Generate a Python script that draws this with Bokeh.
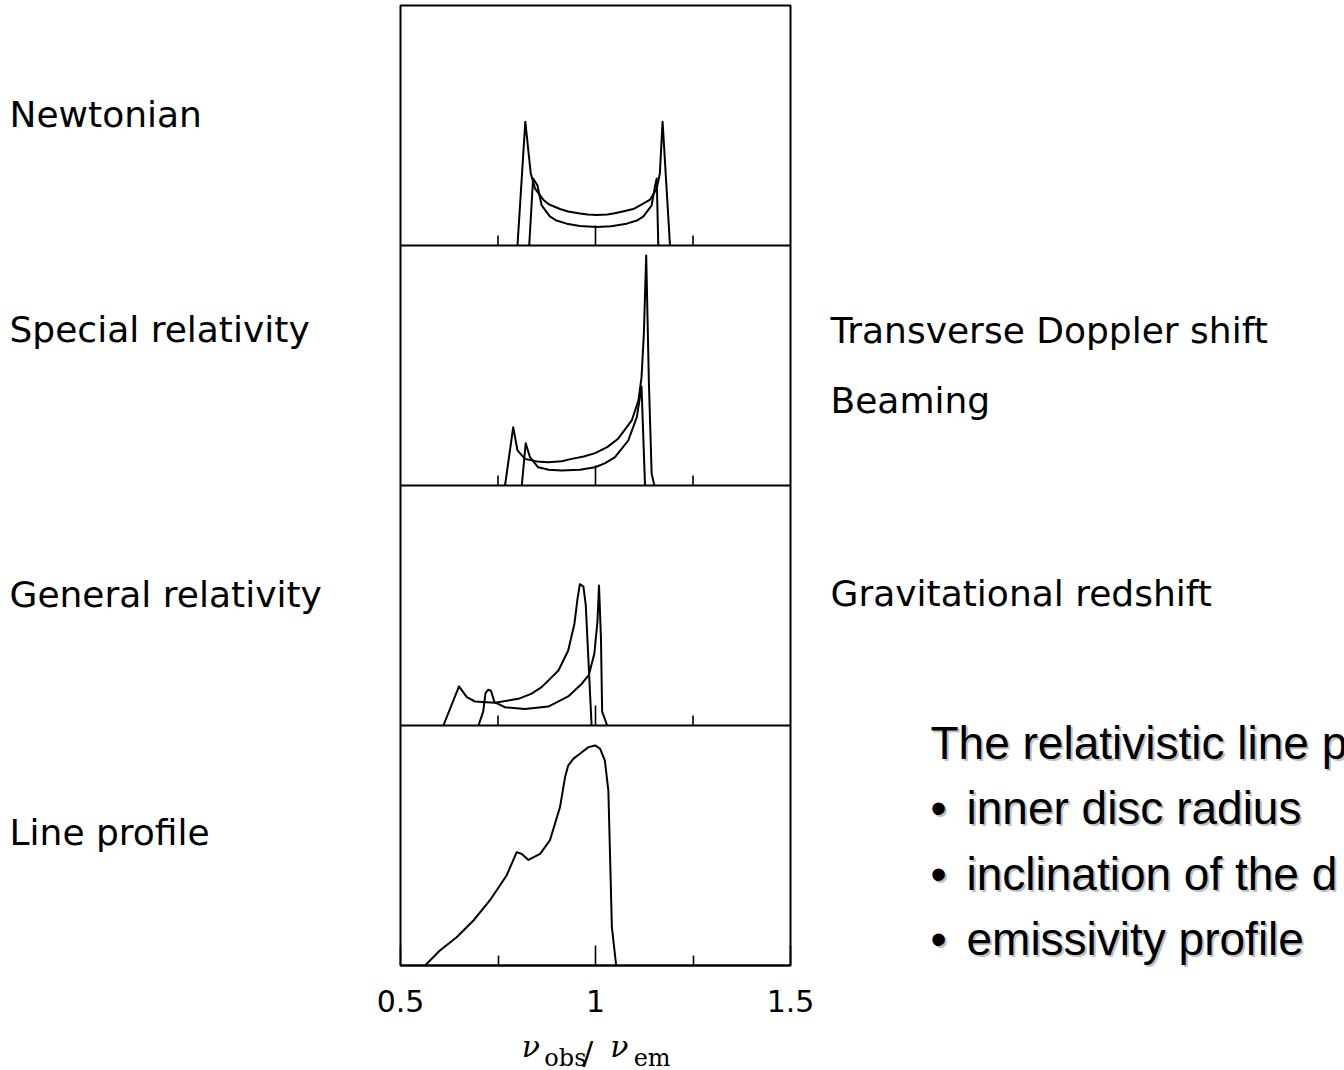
from bokeh.plotting import figure
from bokeh.models import Range1d, FixedTicker, Span, Label
from bokeh.layouts import row, column
from bokeh.embed import file_html
from bokeh.resources import INLINE

# ---------------- data (x = nu_obs/nu_em, y = relative flux within panel) ----------------
newt_a_x = [0.800, 0.820, 0.834, 0.845, 0.866, 0.880, 0.909, 0.930, 0.960, 0.980, 1.003,
            1.030, 1.046, 1.070, 1.097, 1.120, 1.140, 1.157, 1.165, 1.172, 1.191]
newt_a_y = [0.0, 0.516, 0.300, 0.237, 0.191, 0.172, 0.152, 0.142, 0.133, 0.129, 0.127,
            0.129, 0.133, 0.142, 0.152, 0.172, 0.191, 0.237, 0.300, 0.516, 0.0]
newt_b_x = [0.830, 0.840, 0.851, 0.862, 0.883, 0.900, 0.926, 0.960, 1.003, 1.040, 1.080,
            1.106, 1.123, 1.144, 1.153, 1.157, 1.161]
newt_b_y = [0.0, 0.279, 0.251, 0.167, 0.121, 0.104, 0.091, 0.081, 0.077, 0.080, 0.091,
            0.104, 0.121, 0.167, 0.251, 0.279, 0.0]

sr_a_x = [0.768, 0.789, 0.800, 0.819, 0.850, 0.879, 0.913, 0.939, 0.970, 0.999, 1.030,
          1.058, 1.093, 1.110, 1.118, 1.124, 1.130, 1.137, 1.144, 1.151]
sr_a_y = [0.0, 0.243, 0.146, 0.111, 0.100, 0.097, 0.101, 0.111, 0.121, 0.135, 0.160,
          0.195, 0.271, 0.354, 0.451, 0.632, 0.958, 0.424, 0.049, 0.0]
sr_b_x = [0.811, 0.821, 0.832, 0.853, 0.880, 0.913, 0.960, 0.999, 1.025, 1.050, 1.084,
          1.106, 1.118, 1.127]
sr_b_y = [0.0, 0.176, 0.118, 0.076, 0.066, 0.0625, 0.066, 0.076, 0.093, 0.118, 0.1875,
          0.285, 0.4125, 0.0]

gr_a_x = [0.610, 0.650, 0.670, 0.691, 0.742, 0.802, 0.835, 0.862, 0.905, 0.930, 0.946,
          0.954, 0.960, 0.969, 0.975, 0.990]
gr_a_y = [0.0, 0.163, 0.118, 0.100, 0.095, 0.111, 0.132, 0.160, 0.229, 0.3125, 0.424,
          0.530, 0.589, 0.579, 0.503, 0.0]
gr_b_x = [0.700, 0.712, 0.718, 0.725, 0.732, 0.741, 0.768, 0.819, 0.879, 0.930, 0.965,
          0.983, 0.997, 1.005, 1.009, 1.014, 1.017, 1.030]
gr_b_y = [0.0, 0.058, 0.135, 0.149, 0.145, 0.097, 0.076, 0.069, 0.079, 0.121, 0.174,
          0.211, 0.299, 0.433, 0.583, 0.364, 0.058, 0.0]

prof_x = [0.563, 0.601, 0.644, 0.687, 0.729, 0.772, 0.798, 0.811, 0.828, 0.858, 0.883,
          0.909, 0.922, 0.930, 0.943, 0.960, 0.982, 0.999, 1.012, 1.024, 1.033, 1.042, 1.053]
prof_y = [0.0, 0.0625, 0.118, 0.1875, 0.271, 0.375, 0.472, 0.465, 0.440, 0.465, 0.521,
          0.660, 0.785, 0.833, 0.861, 0.882, 0.910, 0.917, 0.903, 0.854, 0.729, 0.160, 0.0]

panel_names = ["Newtonian", "Special relativity", "General relativity", "Line profile"]
right_notes = ["Transverse Doppler shift", "Beaming", "Gravitational redshift"]
bullet_title = "The relativistic line p"
bullet_items = ["inner disc radius", "inclination of the d", "emissivity profile"]

major_ticks = [0.5, 1.0, 1.5]
tick_labels = ["0.5", "1", "1.5"]
minor_ticks = [0.75, 1.25]

# ---------------- page geometry (pixels) ----------------
PAGE_W, PAGE_H = 1344, 1070
LEFT_W = 370            # left text column
PAD = 30                # border of the plot figure on each side
FW, FH = 390, 960       # plot frame
TOP = 5
MAIN_H = 1030           # plot figure height (frame + tick labels)
LABEL_H = PAGE_H - MAIN_H
MID_W = PAD + FW + PAD
RIGHT_W = PAGE_W - LEFT_W - MID_W
PANEL_PX = FH / 4.0

# ---------------- main plot ----------------
p = figure(frame_width=FW, frame_height=FH,
           min_border_left=PAD, min_border_right=PAD,
           min_border_top=TOP, min_border_bottom=MAIN_H - TOP - FH,
           x_range=Range1d(0.5, 1.5), y_range=Range1d(0, 4),
           output_backend="svg", toolbar_location=None,
           y_axis_location=None)
p.background_fill_color = "white"
p.border_fill_color = "white"
p.outline_line_color = "black"
p.outline_line_width = 2
p.grid.visible = False

ax = p.xaxis[0]
ax.ticker = FixedTicker(ticks=major_ticks, minor_ticks=minor_ticks)
ax.major_label_overrides = dict(zip(major_ticks, tick_labels))
ax.major_tick_in = 20
ax.major_tick_out = 0
ax.minor_tick_in = 10
ax.minor_tick_out = 0
ax.major_tick_line_width = 1.6
ax.minor_tick_line_width = 1.6
ax.axis_line_width = 2
ax.major_label_text_font = "DejaVu Sans"
ax.major_label_text_font_size = "30px"
ax.major_label_text_color = "black"
ax.major_label_standoff = 24

# panel separators and their inward ticks
for k in (1, 2, 3):
    p.add_layout(Span(location=k, dimension="width", line_color="black", line_width=2))
    xs = minor_ticks + [1.0]
    lens = [10 / PANEL_PX] * len(minor_ticks) + [20 / PANEL_PX]
    p.segment(x0=xs, y0=[k] * len(xs), x1=xs, y1=[k + l for l in lens],
              line_color="black", line_width=1.6)

curves = [
    (newt_a_x, newt_a_y, 3), (newt_b_x, newt_b_y, 3),
    (sr_a_x, sr_a_y, 2), (sr_b_x, sr_b_y, 2),
    (gr_a_x, gr_a_y, 1), (gr_b_x, gr_b_y, 1),
    (prof_x, prof_y, 0),
]
for xs, ys, off in curves:
    p.line(xs, [y + off for y in ys], line_color="black", line_width=2,
           line_join="round")


# ---------------- text figures (coordinates = page pixels) ----------------
def text_fig(x0, y0, w, h):
    f = figure(width=w, height=h, x_range=Range1d(x0, x0 + w),
               y_range=Range1d(y0 + h, y0), min_border=0,
               x_axis_location=None, y_axis_location=None,
               output_backend="svg", toolbar_location=None)
    f.grid.visible = False
    f.outline_line_color = None
    f.background_fill_color = "white"
    f.border_fill_color = "white"
    return f


BASE_SHIFT = 0.37   # measured offset of the rendered baseline, in em


def add_text(f, text, px, py, font="DejaVu Sans", size=36, style="normal",
             color="black", alpha=1.0):
    f.add_layout(Label(x=px, y=py - BASE_SHIFT * size, text=text, text_font=font,
                       text_font_size=f"{size}px", text_font_style=style,
                       text_color=color, text_alpha=alpha,
                       text_align="left", text_baseline="alphabetic"))


left = text_fig(0, 0, LEFT_W, PAGE_H)
for name, base in zip(panel_names, [127, 342, 607, 845]):
    add_text(left, name, 9, base)

right = text_fig(LEFT_W + MID_W, 0, RIGHT_W, PAGE_H)
for note, base in zip(right_notes, [343, 413, 606]):
    add_text(right, note, 830, base)

block = [(bullet_title, 930, 760, False)] + [
    (t, 966, b, True) for t, b in zip(bullet_items, [825, 891, 956])]
for t, x0, b, bullet in block:
    for dx, dy, col, al in [(2, 2, "#8a8a8a", 0.55), (0, 0, "black", 1.0)]:
        if bullet:
            add_text(right, "\u2022", 930 + dx, b + dy, font="Liberation Sans",
                     size=46, color=col, alpha=al)
        add_text(right, t, x0 + dx, b + dy, font="Liberation Sans", size=46,
                 color=col, alpha=al)

xlab = text_fig(LEFT_W, MAIN_H, MID_W, LABEL_H)
add_text(xlab, "\u03bd", 510, 1057, font="DejaVu Serif", size=30, style="italic")
add_text(xlab, "obs", 536, 1066, font="DejaVu Serif", size=24)
add_text(xlab, "/", 580, 1064, font="DejaVu Serif", size=32)
add_text(xlab, "\u03bd", 612, 1057, font="DejaVu Serif", size=30, style="italic")
add_text(xlab, "em", 639, 1066, font="DejaVu Serif", size=24)

layout = row(left, column(p, xlab, spacing=0), right, spacing=0)
open("out.html", "w").write(file_html(layout, INLINE))
